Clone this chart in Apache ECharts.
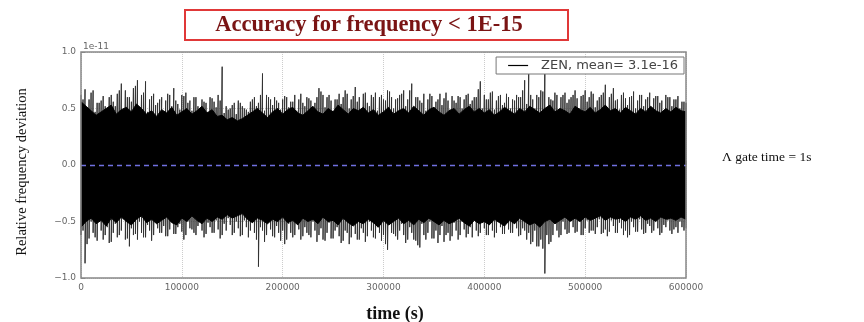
<!DOCTYPE html>
<html><head><meta charset="utf-8">
<script src="https://cdn.jsdelivr.net/npm/echarts@6/dist/echarts.min.js"></script>
<style>html,body{margin:0;padding:0;background:#fff}#c{width:864px;height:322px}</style>
</head><body><div id="c"></div>
<script>
// x-axis ticks (s) and y ticks (units of 1e-11)
const xTicks = [0, 100000, 200000, 300000, 400000, 500000, 600000];
const yTicks = [-1.0, -0.5, 0.0, 0.5, 1.0];
// spike envelope, main columns every 4000 s (values in 1e-11)
const spikeStep = 4000;
const spikeHigh = [0.62,0.67,0.58,0.66,0.55,0.57,0.52,0.60,0.56,0.63,0.72,0.66,0.60,0.68,0.75,0.62,0.74,0.58,0.63,0.55,
0.60,0.57,0.62,0.68,0.54,0.62,0.64,0.57,0.60,0.52,0.58,0.55,0.60,0.56,0.62,0.87,0.52,0.50,0.55,0.57,
0.52,0.49,0.56,0.60,0.55,0.81,0.62,0.58,0.60,0.55,0.58,0.60,0.56,0.62,0.58,0.55,0.60,0.57,0.55,0.68,
0.62,0.60,0.57,0.58,0.63,0.60,0.63,0.58,0.69,0.60,0.63,0.55,0.62,0.64,0.60,0.58,0.66,0.60,0.58,0.62,
0.66,0.58,0.72,0.60,0.57,0.63,0.58,0.61,0.56,0.63,0.59,0.57,0.61,0.55,0.60,0.58,0.63,0.57,0.60,0.74,
0.62,0.58,0.65,0.57,0.62,0.55,0.60,0.58,0.62,0.60,0.75,0.81,0.58,0.62,0.66,0.85,0.60,0.57,0.62,0.60,
0.64,0.58,0.62,0.59,0.61,0.66,0.60,0.63,0.57,0.62,0.71,0.60,0.68,0.58,0.62,0.59,0.60,0.65,0.57,0.62,
0.58,0.64,0.59,0.61,0.57,0.62,0.60,0.58,0.61,0.56,0.55];
const spikeLow = [-0.62,-0.87,-0.65,-0.60,-0.67,-0.58,-0.62,-0.69,-0.60,-0.64,-0.58,-0.66,-0.72,-0.62,-0.66,-0.60,-0.64,-0.58,-0.62,-0.56,
-0.60,-0.63,-0.57,-0.61,-0.55,-0.59,-0.62,-0.56,-0.60,-0.54,-0.58,-0.61,-0.55,-0.60,-0.57,-0.62,-0.58,-0.53,-0.60,-0.56,
-0.62,-0.55,-0.58,-0.60,-0.90,-0.58,-0.62,-0.57,-0.64,-0.60,-0.58,-0.66,-0.60,-0.62,-0.57,-0.63,-0.60,-0.64,-0.58,-0.62,
-0.66,-0.60,-0.65,-0.58,-0.63,-0.67,-0.60,-0.64,-0.61,-0.66,-0.60,-0.63,-0.58,-0.65,-0.60,-0.62,-0.75,-0.60,-0.63,-0.58,
-0.62,-0.66,-0.60,-0.67,-0.73,-0.62,-0.60,-0.65,-0.58,-0.62,-0.68,-0.60,-0.63,-0.58,-0.62,-0.57,-0.61,-0.64,-0.58,-0.60,
-0.56,-0.62,-0.58,-0.60,-0.55,-0.61,-0.57,-0.60,-0.56,-0.62,-0.58,-0.60,-0.68,-0.72,-0.66,-0.96,-0.70,-0.62,-0.58,-0.62,
-0.57,-0.60,-0.55,-0.59,-0.62,-0.56,-0.60,-0.58,-0.55,-0.61,-0.57,-0.59,-0.54,-0.60,-0.56,-0.58,-0.62,-0.55,-0.59,-0.57,
-0.60,-0.54,-0.58,-0.56,-0.60,-0.55,-0.58,-0.57,-0.60,-0.55,-0.56];
// in-between columns (offset 2000 s)
const spikeHigh2 = [0.58,0.50,0.64,0.47,0.55,0.61,0.48,0.62,0.52,0.66,0.49,0.60,0.56,0.70,0.51,0.64,0.47,0.61,0.53,0.58,
0.46,0.63,0.52,0.57,0.49,0.61,0.55,0.48,0.60,0.50,0.56,0.47,0.59,0.51,0.57,0.46,0.49,0.53,0.45,0.55,
0.50,0.47,0.58,0.52,0.62,0.48,0.60,0.53,0.57,0.49,0.61,0.51,0.56,0.48,0.63,0.52,0.59,0.47,0.60,0.65,
0.51,0.62,0.48,0.58,0.54,0.66,0.50,0.61,0.56,0.49,0.64,0.52,0.60,0.48,0.62,0.57,0.65,0.50,0.59,0.63,
0.52,0.66,0.49,0.60,0.55,0.48,0.63,0.51,0.58,0.53,0.64,0.49,0.57,0.61,0.50,0.62,0.54,0.60,0.67,0.50,
0.58,0.64,0.49,0.61,0.53,0.63,0.50,0.57,0.60,0.66,0.54,0.62,0.50,0.60,0.65,0.51,0.58,0.64,0.49,0.62,
0.55,0.60,0.66,0.50,0.62,0.56,0.65,0.51,0.60,0.64,0.50,0.63,0.57,0.49,0.64,0.53,0.61,0.50,0.62,0.52,
0.60,0.49,0.61,0.55,0.48,0.60,0.52,0.58,0.50,0.56];
const spikeLow2 = [-0.58,-0.70,-0.50,-0.64,-0.49,-0.66,-0.55,-0.68,-0.52,-0.62,-0.48,-0.65,-0.56,-0.61,-0.50,-0.64,-0.53,-0.67,-0.49,-0.60,
-0.54,-0.63,-0.48,-0.61,-0.52,-0.66,-0.50,-0.57,-0.62,-0.48,-0.64,-0.51,-0.60,-0.49,-0.65,-0.52,-0.47,-0.62,-0.50,-0.63,
-0.49,-0.64,-0.51,-0.66,-0.55,-0.68,-0.50,-0.63,-0.54,-0.67,-0.70,-0.52,-0.64,-0.49,-0.66,-0.55,-0.62,-0.50,-0.68,-0.56,
-0.67,-0.51,-0.65,-0.55,-0.69,-0.58,-0.70,-0.52,-0.66,-0.56,-0.68,-0.50,-0.64,-0.55,-0.67,-0.70,-0.53,-0.61,-0.66,-0.52,
-0.69,-0.55,-0.66,-0.71,-0.52,-0.66,-0.50,-0.65,-0.69,-0.54,-0.62,-0.67,-0.51,-0.66,-0.50,-0.64,-0.55,-0.49,-0.63,-0.51,
-0.62,-0.48,-0.64,-0.50,-0.61,-0.47,-0.60,-0.52,-0.63,-0.56,-0.66,-0.70,-0.58,-0.72,-0.74,-0.62,-0.68,-0.52,-0.64,-0.50,
-0.61,-0.48,-0.60,-0.50,-0.62,-0.49,-0.58,-0.61,-0.48,-0.60,-0.63,-0.49,-0.60,-0.51,-0.62,-0.64,-0.50,-0.59,-0.48,-0.61,
-0.52,-0.60,-0.48,-0.62,-0.53,-0.49,-0.61,-0.55,-0.50,-0.58];
// dense core band, one point every 5000 s
const coreStep = 5000;
const coreHigh = [0.56,0.52,0.48,0.44,0.47,0.50,0.53,0.45,0.49,0.51,0.47,0.54,0.50,0.45,0.48,0.43,0.49,0.46,0.51,0.44,
0.47,0.50,0.45,0.48,0.52,0.46,0.49,0.43,0.44,0.40,0.42,0.39,0.41,0.44,0.47,0.50,0.46,0.42,0.47,0.50,
0.45,0.49,0.51,0.46,0.44,0.48,0.52,0.47,0.45,0.50,0.47,0.53,0.49,0.45,0.50,0.48,0.51,0.46,0.49,0.44,
0.47,0.51,0.45,0.48,0.50,0.46,0.52,0.48,0.44,0.49,0.51,0.47,0.44,0.48,0.50,0.45,0.49,0.52,0.47,0.50,
0.46,0.49,0.44,0.47,0.51,0.48,0.45,0.50,0.47,0.52,0.49,0.46,0.50,0.53,0.47,0.50,0.48,0.45,0.52,0.49,
0.47,0.51,0.46,0.49,0.53,0.48,0.50,0.46,0.51,0.48,0.45,0.50,0.47,0.52,0.48,0.46,0.50,0.47,0.51,0.48,0.47];
const coreLow = [-0.55,-0.50,-0.47,-0.52,-0.49,-0.54,-0.47,-0.51,-0.46,-0.50,-0.53,-0.48,-0.45,-0.51,-0.48,-0.52,-0.49,-0.46,-0.51,-0.53,
-0.47,-0.50,-0.45,-0.49,-0.52,-0.47,-0.50,-0.46,-0.48,-0.44,-0.47,-0.45,-0.43,-0.48,-0.51,-0.47,-0.49,-0.52,-0.48,-0.50,
-0.46,-0.51,-0.49,-0.53,-0.47,-0.50,-0.48,-0.52,-0.46,-0.50,-0.49,-0.53,-0.47,-0.51,-0.54,-0.50,-0.52,-0.48,-0.51,-0.55,
-0.49,-0.53,-0.50,-0.47,-0.52,-0.49,-0.53,-0.48,-0.51,-0.47,-0.50,-0.53,-0.49,-0.52,-0.50,-0.47,-0.51,-0.54,-0.49,-0.52,
-0.50,-0.53,-0.48,-0.51,-0.54,-0.49,-0.52,-0.47,-0.50,-0.53,-0.51,-0.55,-0.50,-0.48,-0.52,-0.49,-0.46,-0.50,-0.47,-0.50,
-0.46,-0.49,-0.47,-0.45,-0.49,-0.46,-0.48,-0.47,-0.50,-0.46,-0.48,-0.45,-0.49,-0.47,-0.50,-0.46,-0.48,-0.47,-0.49,-0.46,-0.48];
const legendName = 'ZEN, mean= 3.1e-16';

const spikeData = [];
spikeHigh.forEach((h, i) => {
  const x = i * spikeStep;
  spikeData.push([x, h]);
  spikeData.push([x, spikeLow[i]]);
  if (i < spikeHigh2.length) {
    spikeData.push([x + spikeStep / 2, spikeHigh2[i]]);
    spikeData.push([x + spikeStep / 2, spikeLow2[i]]);
  }
});
const upData = coreHigh.map((v, i) => [i * coreStep, v]);
const downData = coreLow.map((v, i) => [i * coreStep, v]);

const chart = echarts.init(document.getElementById('c'), null, {renderer: 'canvas'});
const grayTxt = '#666';
const serif = '"Liberation Serif", "DejaVu Serif", serif';
chart.setOption({
  animation: false,
  backgroundColor: '#fff',
  grid: {left: 81, top: 52, width: 605, height: 226, show: true, borderColor: '#888', borderWidth: 1.5, backgroundColor: 'transparent', z: 10},
  xAxis: {
    type: 'value', min: xTicks[0], max: xTicks[xTicks.length - 1], interval: xTicks[1] - xTicks[0],
    axisLine: {show: false},
    axisTick: {show: true, inside: true, length: 4, lineStyle: {color: '#888'}},
    axisLabel: {color: grayTxt, fontSize: 9, fontFamily: 'DejaVu Sans', margin: 5, formatter: v => String(v)},
    splitLine: {show: true, lineStyle: {color: '#ccc', type: 'dotted', width: 1}}
  },
  yAxis: {
    type: 'value', min: yTicks[0], max: yTicks[yTicks.length - 1], interval: 0.5,
    axisLine: {show: false},
    axisTick: {show: true, inside: true, length: 4, lineStyle: {color: '#888'}},
    axisLabel: {color: grayTxt, fontSize: 9, fontFamily: 'DejaVu Sans', margin: 5,
      formatter: v => (v < 0 ? '\u2212' : '') + Math.abs(v).toFixed(1)},
    splitLine: {show: true, lineStyle: {color: '#ccc', type: 'dotted', width: 1}}
  },
  legend: {
    data: [{name: legendName, icon: 'rect'}],
    right: 864 - 684, top: 57, itemWidth: 20, itemHeight: 1.2, itemGap: 16,
    borderColor: '#777', borderWidth: 1, padding: [2, 6, 2, 12], backgroundColor: '#fff',
    textStyle: {color: '#444', fontSize: 13, fontFamily: 'DejaVu Sans', padding: [0, 0, 0, 8]},
    itemStyle: {color: '#000'}, z: 20
  },
  series: [
    {name: legendName, type: 'line', data: spikeData, symbol: 'none', clip: true,
     lineStyle: {color: '#333', width: 1}, itemStyle: {color: '#000'}, z: 2},
    {name: 'coreUp', type: 'line', data: upData, symbol: 'none', clip: true,
     lineStyle: {color: '#000', width: 1}, areaStyle: {color: '#000', opacity: 1}, z: 3},
    {name: 'coreDown', type: 'line', data: downData, symbol: 'none', clip: true,
     lineStyle: {color: '#000', width: 1}, areaStyle: {color: '#000', opacity: 1}, z: 3,
     markLine: {silent: true, symbol: 'none', label: {show: false},
       lineStyle: {color: '#7070e0', type: [5, 4], width: 1.3}, data: [{yAxis: 0}], z: 5}}
  ],
  graphic: [
    {type: 'rect', shape: {x: 185, y: 10, width: 383, height: 30}, style: {fill: '#fff', stroke: '#e03838', lineWidth: 2}},
    {type: 'text', x: 369, y: 25, style: {text: 'Accuracy for frequency < 1E-15', font: 'bold 22.5px ' + serif, fill: '#7a1414', align: 'center', verticalAlign: 'middle'}},
    {type: 'text', x: 83, y: 47, style: {text: '1e-11', font: '9px "DejaVu Sans"', fill: grayTxt, verticalAlign: 'middle'}},
    {type: 'text', x: 22, y: 172, rotation: Math.PI / 2, style: {text: 'Relative frequency deviation', font: '14.5px ' + serif, fill: '#111', align: 'center', verticalAlign: 'middle'}},
    {type: 'text', x: 395, y: 314, style: {text: 'time (s)', font: 'bold 18px ' + serif, fill: '#111', align: 'center', verticalAlign: 'middle'}},
    {type: 'text', x: 722, y: 157, style: {text: '\u039B gate time = 1s', font: '13.5px ' + serif, fill: '#111', verticalAlign: 'middle'}}
  ]
});
</script></body></html>
